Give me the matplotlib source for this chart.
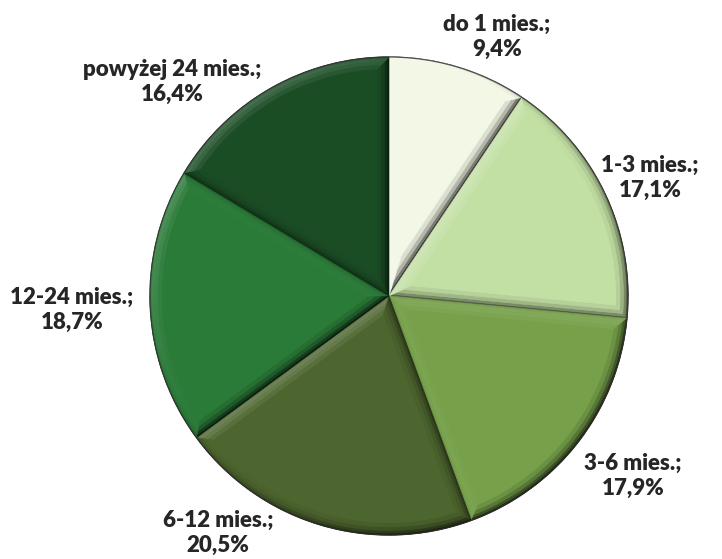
#!/usr/bin/env python3
"""Pie chart of durations (months) with a bevelled, lit-from-top-left look."""

import numpy as np
import matplotlib

matplotlib.use("Agg")
import matplotlib.pyplot as plt
from matplotlib.patches import Polygon

# --------------------------------------------------------------------------- #
# Data
# --------------------------------------------------------------------------- #
categories = [
    "do 1 mies.",
    "1-3 mies.",
    "3-6 mies.",
    "6-12 mies.",
    "12-24 mies.",
    "powyżej 24 mies.",
]
shares = [9.4, 17.1, 17.9, 20.5, 18.7, 16.4]
slice_colors = ["#f3f7e6", "#c3e0a4", "#76a04a", "#4d652e", "#2a7a38", "#1b4d25"]

# label anchor points (pixel coords, y measured from the top)
label_xy = [(497, 37), (650, 178), (633, 476), (218, 533), (72, 310), (172, 82)]

W, H = 722, 559
CENTER = (389, H - 296)
RADIUS = 239

BEVEL_STEPS = [0.0, 2.0, 4.5, 8.0, 12.0]       # inset distances (px)
BEVEL_SLOPES = [65.0, 45.0, 25.0, 10.0]        # face tilt per ring (deg)
LIGHT = np.array([-1.0, 1.0, 1.2])
LIGHT /= np.linalg.norm(LIGHT)


def _unit(deg):
    a = np.deg2rad(deg)
    return np.array([np.cos(a), np.sin(a)])


def _shade(color, direction, slope_deg):
    """Tints *color* by how much a tilted face catches the light."""
    s = np.deg2rad(slope_deg)
    n = np.array([direction[0] * np.sin(s), direction[1] * np.sin(s), np.cos(s)])
    delta = float(n @ LIGHT - LIGHT[2])
    rgb = np.array(matplotlib.colors.to_rgb(color))
    if delta >= 0:
        return rgb + (1 - rgb) * min(1.0, delta * 0.55)
    return rgb * max(0.0, 1 + delta * 0.7)


def _inset_outline(cx, cy, r, t1, t2, b, n):
    """Apex and arc points of a wedge shrunk inward by *b* pixels."""
    c = np.array([cx, cy])
    half = np.deg2rad(t2 - t1) / 2
    if b == 0:
        apex = c
        arc_t = np.linspace(t1, t2, n)
        rr = r
    else:
        apex = c + _unit((t1 + t2) / 2) * b / np.sin(half)
        rr = r - b
        d = np.rad2deg(np.arcsin(b / rr))
        arc_t = np.linspace(t1 + d, t2 - d, n)
    arc = np.array([c + rr * _unit(t) for t in arc_t])
    return apex, arc, arc_t


def _draw_bevel(ax, wedge, color):
    cx, cy = wedge.center
    r, t1, t2 = wedge.r, wedge.theta1, wedge.theta2
    n = max(8, int((t2 - t1) * 1.5))
    levels = [_inset_outline(cx, cy, r, t1, t2, b, n) for b in BEVEL_STEPS]
    for k, slope in enumerate(BEVEL_SLOPES):
        ap0, arc0, ts = levels[k]
        ap1, arc1, _ = levels[k + 1]
        # radial edge at theta1 and at theta2
        quads = [
            ([ap0, arc0[0], arc1[0], ap1], _unit(t1 - 90)),
            ([ap0, arc0[-1], arc1[-1], ap1], _unit(t2 + 90)),
        ]
        for j in range(n - 1):
            mid = (ts[j] + ts[j + 1]) / 2
            quads.append(([arc0[j], arc0[j + 1], arc1[j + 1], arc1[j]], _unit(mid)))
        for pts, direction in quads:
            fc = _shade(color, direction, slope)
            ax.add_patch(Polygon(pts, closed=True, facecolor=fc, edgecolor=fc,
                                 linewidth=0.4, zorder=3 + k * 0.01))
    # flat top of the slice
    ap, arc, _ = levels[-1]
    ax.add_patch(Polygon(np.vstack([ap, arc]), closed=True, facecolor=color,
                         edgecolor="none", zorder=4))


fig = plt.figure(figsize=(W / 100, H / 100), dpi=100)
ax = fig.add_axes([0, 0, 1, 1])

wedges, _ = ax.pie(
    shares,
    colors=slice_colors,
    startangle=90,
    counterclock=False,
    center=CENTER,
    radius=RADIUS,
    wedgeprops=dict(edgecolor="#3a3a3a", linewidth=0.8),
    frame=True,
)
ax.set_xlim(0, W)
ax.set_ylim(0, H)
ax.set_aspect("equal")
ax.axis("off")

for w, col in zip(wedges, slice_colors):
    _draw_bevel(ax, w, col)

# thin dark rim round the whole pie
ax.add_patch(plt.Circle(CENTER, RADIUS, facecolor="none", edgecolor="#2e2e2e",
                        linewidth=0.9, alpha=0.8, zorder=5))

for name, val, (x, y) in zip(categories, shares, label_xy):
    text = f"{name};\n" + f"{val:.1f}".replace(".", ",") + "%"
    ax.text(x, H - y, text, ha="center", va="center", fontsize=16,
            fontweight="heavy", family="Lato", color="#262626",
            linespacing=1.2, zorder=6)

fig.savefig("out.png", dpi=100)
